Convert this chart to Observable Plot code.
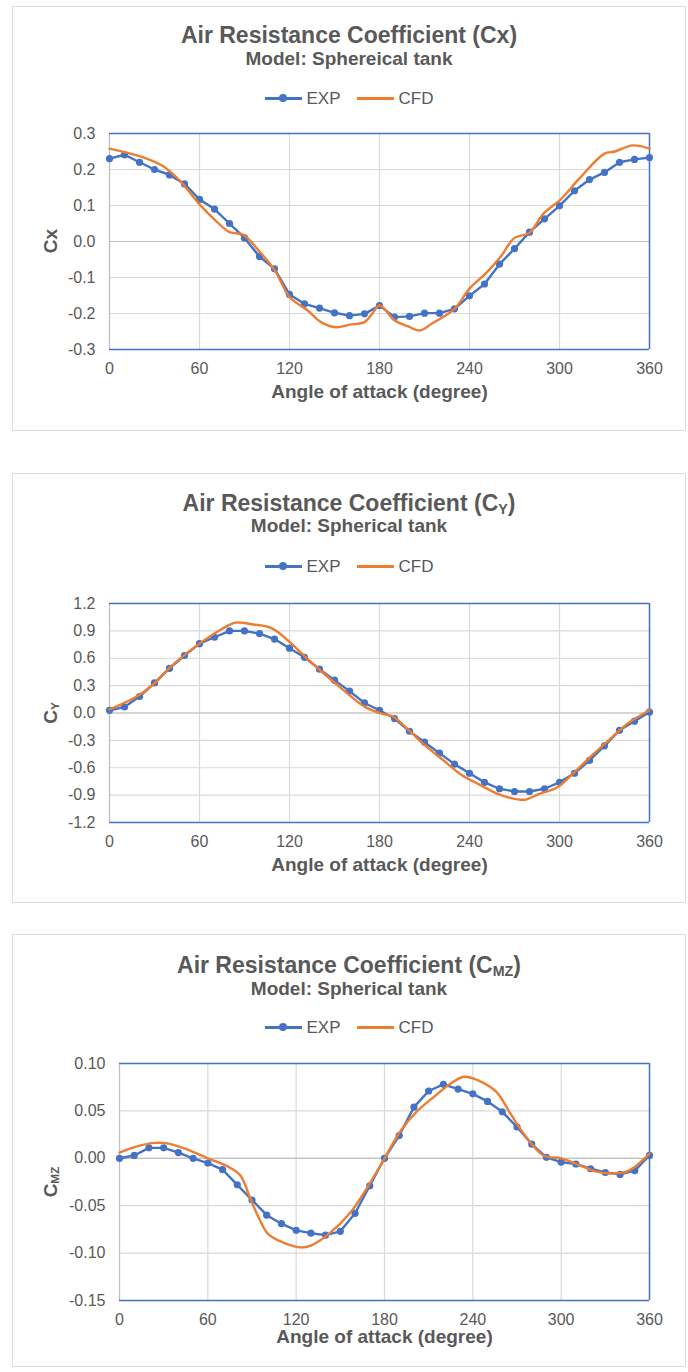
<!DOCTYPE html>
<html>
<head>
<meta charset="utf-8">
<script src="https://cdn.jsdelivr.net/npm/d3@7"></script>
<script src="https://cdn.jsdelivr.net/npm/@observablehq/plot@0.6"></script>
<style>
  html, body { margin: 0; padding: 0; background: #fff; }
  body { width: 688px; height: 1372px; position: relative; overflow: hidden; font-family: "Liberation Sans", Arial, sans-serif; color: #595959; }
  .frame { position: absolute; left: 12px; width: 674px; border: 1px solid #d9d9d9; box-sizing: border-box; }
  .title { position: absolute; left: 12px; width: 674px; text-align: center; font-weight: bold; font-size: 23px; line-height: 23px; white-space: nowrap; }
  .subtitle { position: absolute; left: 12px; width: 674px; text-align: center; font-weight: bold; font-size: 19px; line-height: 19px; white-space: nowrap; }
  .legend { position: absolute; left: 12px; width: 674px; display: flex; justify-content: center; align-items: center; font-size: 17px; line-height: 17px; }
  .legend .item { display: flex; align-items: center; margin: 0 8px; }
  .legend .sw { position: relative; width: 37px; height: 3px; margin-right: 5px; }
  .legend .sw .dot { position: absolute; left: 14.5px; top: -2.5px; width: 8px; height: 8px; border-radius: 50%; }
  .ylabel { position: absolute; font-weight: bold; font-size: 19px; line-height: 19px; white-space: nowrap; transform: translate(-50%, -50%) rotate(-90deg); }
  sub { font-size: 62%; vertical-align: -0.18em; line-height: 0; }
  .chart { position: absolute; left: 13px; }
</style>
</head>
<body>
<script>
// ---------- data ----------
const expAngles = [0,10,20,30,40,50,60,70,80,90,100,110,120,130,140,150,160,170,180,190,200,210,220,230,240,250,260,270,280,290,300,310,320,330,340,350,360];

const cxExp = [0.230,0.241,0.220,0.200,0.185,0.160,0.117,0.090,0.050,0.010,-0.042,-0.076,-0.147,-0.173,-0.185,-0.198,-0.206,-0.201,-0.178,-0.210,-0.208,-0.199,-0.199,-0.187,-0.151,-0.118,-0.063,-0.020,0.026,0.063,0.099,0.141,0.172,0.192,0.220,0.228,0.233];
const cxCfdAngles = [0,20,35,41,48,60,70,80,89,100,110,120,132,141,151,160,170,175,180,184,190,199,207,215,230,240,251,261,270,280,289,301,313,330,337,349,360];
const cxCfd = [0.258,0.237,0.211,0.192,0.164,0.103,0.061,0.026,0.019,-0.028,-0.079,-0.154,-0.191,-0.224,-0.238,-0.231,-0.224,-0.201,-0.177,-0.191,-0.219,-0.236,-0.247,-0.228,-0.187,-0.131,-0.088,-0.041,0.010,0.024,0.076,0.118,0.174,0.244,0.250,0.267,0.258];

const cyExp = [0.029,0.066,0.18,0.33,0.49,0.63,0.76,0.83,0.90,0.90,0.87,0.81,0.71,0.61,0.48,0.36,0.24,0.11,0.03,-0.06,-0.20,-0.32,-0.44,-0.56,-0.66,-0.76,-0.83,-0.86,-0.86,-0.83,-0.76,-0.66,-0.52,-0.36,-0.19,-0.09,0.01];
const cyCfdAngles = [0,17,29,41,60,75,84,96,108,120,129,141,156,170,182,189,199,210,222,234,246,258,267,277,286,298,308,320,332,346,360];
const cyCfd = [0.04,0.17,0.31,0.51,0.76,0.92,0.99,0.97,0.93,0.78,0.64,0.46,0.25,0.07,-0.01,-0.04,-0.18,-0.35,-0.51,-0.67,-0.78,-0.88,-0.93,-0.95,-0.89,-0.82,-0.68,-0.49,-0.31,-0.11,0.03];

const cmzExp = [0.000,0.003,0.011,0.011,0.006,0.000,-0.005,-0.012,-0.028,-0.044,-0.060,-0.069,-0.076,-0.079,-0.081,-0.077,-0.058,-0.029,0.000,0.024,0.054,0.071,0.078,0.073,0.068,0.060,0.049,0.033,0.015,0.001,-0.004,-0.006,-0.011,-0.015,-0.017,-0.013,0.003];
const cmzCfdAngles = [0,12,22,31,43,60,74,82,89,95,101,113,123,130,142,157,169,180,191,201,213,225,234,244,256,266,276,288,300,312,324,336,346,360];
const cmzCfd = [0.006,0.0125,0.016,0.016,0.011,0.000,-0.009,-0.018,-0.043,-0.064,-0.080,-0.090,-0.094,-0.092,-0.080,-0.057,-0.029,0.000,0.029,0.048,0.064,0.079,0.086,0.082,0.070,0.046,0.023,0.003,0.000,-0.007,-0.014,-0.016,-0.013,0.005];

const xTicks = [0,60,120,180,240,300,360];
const cxTicks = [-0.3,-0.2,-0.1,0,0.1,0.2,0.3];
const cyTicks = [-1.2,-0.9,-0.6,-0.3,0,0.3,0.6,0.9,1.2];
const cmzTicks = [-0.15,-0.10,-0.05,0,0.05,0.10];

const xLabel = "Angle of attack (degree)";
const seriesNames = ["EXP", "CFD"];
const colors = {EXP: "#4472C4", CFD: "#ED7D31"};

// ---------- layout ----------
const panels = [
  {frameTop: 6, frameBottom: 431, titleY: 35, subY: 58, legendY: 98, plotTop: 133, plotBottom: 349, labelDy: 48, ml: 96,
   title: "Air Resistance Coefficient (Cx)", sub: "Model: Sphereical tank", ylab: "Cx",
   exp: cxExp, cfdA: cxCfdAngles, cfd: cxCfd, ticks: cxTicks, domain: [-0.3, 0.3], fmt: d => d.toFixed(1)},
  {frameTop: 473, frameBottom: 903, titleY: 503, subY: 525, legendY: 566, plotTop: 603, plotBottom: 822, labelDy: 48, ml: 96,
   title: "Air Resistance Coefficient (C<sub>Y</sub>)", sub: "Model: Spherical tank", ylab: "C<sub>Y</sub>",
   exp: cyExp, cfdA: cyCfdAngles, cfd: cyCfd, ticks: cyTicks, domain: [-1.2, 1.2], fmt: d => d.toFixed(1)},
  {frameTop: 934, frameBottom: 1367, titleY: 965, subY: 988, legendY: 1027, plotTop: 1063, plotBottom: 1300, labelDy: 42, ml: 106,
   title: "Air Resistance Coefficient (C<sub>MZ</sub>)", sub: "Model: Spherical tank", ylab: "C<sub>MZ</sub>",
   exp: cmzExp, cfdA: cmzCfdAngles, cfd: cmzCfd, ticks: cmzTicks, domain: [-0.15, 0.10], fmt: d => d.toFixed(2)}
];

function el(cls, html, style) {
  const d = document.createElement("div");
  d.className = cls;
  d.innerHTML = html;
  Object.assign(d.style, style);
  document.body.appendChild(d);
  return d;
}

for (const p of panels) {
  el("frame", "", {top: p.frameTop + "px", height: (p.frameBottom - p.frameTop) + "px"});
  el("title", p.title, {top: (p.titleY - 11.5) + "px"});
  el("subtitle", p.sub, {top: (p.subY - 9.5) + "px"});
  const lg = el("legend", "", {top: (p.legendY - 8.5) + "px", height: "17px"});
  for (const s of seriesNames) {
    const it = document.createElement("div");
    it.className = "item";
    it.innerHTML = `<div class="sw" style="background:${colors[s]}">${s === "EXP" ? `<div class="dot" style="background:${colors[s]}"></div>` : ""}</div><span>${s}</span>`;
    lg.appendChild(it);
  }
  el("ylabel", p.ylab, {left: "50px", top: ((p.plotTop + p.plotBottom) / 2) + "px"});

  const expData = expAngles.map((a, i) => ({a, v: p.exp[i]}));
  const cfdData = p.cfdA.map((a, i) => ({a, v: p.cfd[i]}));
  const mt = 10, mb = p.labelDy + 16, mr = 38;
  const plotH = p.plotBottom - p.plotTop;

  const chart = Plot.plot({
    width: 674,
    height: mt + plotH + mb,
    marginTop: mt, marginBottom: mb, marginLeft: p.ml, marginRight: mr,
    style: {fontFamily: '"Liberation Sans", Arial, sans-serif', fontSize: "16px", color: "#595959", background: "transparent", overflow: "visible"},
    x: {domain: [0, 360], ticks: xTicks},
    y: {domain: p.domain, ticks: p.ticks},
    marks: [
      Plot.gridX(xTicks, {stroke: "#d9d9d9", strokeOpacity: 1, strokeWidth: 1.2}),
      Plot.gridY(p.ticks, {stroke: "#d9d9d9", strokeOpacity: 1, strokeWidth: 1.2}),
      Plot.ruleY([0], {stroke: "#bfbfbf", strokeWidth: 1.2}),
      Plot.ruleX([0], {stroke: "#bfbfbf", strokeWidth: 1.2}),
      Plot.ruleY([p.domain[0], p.domain[1]], {stroke: "#4472C4", strokeWidth: 1.5}),
      Plot.ruleX([360], {stroke: "#4472C4", strokeWidth: 1.5}),
      Plot.axisX({ticks: xTicks, tickSize: 0, tickPadding: 13, label: null, fontSize: 16}),
      Plot.axisY({ticks: p.ticks, tickSize: 0, tickPadding: 14, tickFormat: p.fmt, label: null, fontSize: 16}),
      Plot.line(expData, {x: "a", y: "v", stroke: colors.EXP, strokeWidth: 2.4}),
      Plot.dot(expData, {x: "a", y: "v", r: 3.6, fill: colors.EXP, stroke: "none"}),
      Plot.line(cfdData, {x: "a", y: "v", stroke: colors.CFD, strokeWidth: 2.4, curve: "catmull-rom"}),
      Plot.text([xLabel], {text: d => d, frameAnchor: "bottom", dy: p.labelDy, fontSize: 19, fontWeight: "bold", fill: "#595959"})
    ]
  });
  chart.classList.add("chart");
  chart.style.top = (p.plotTop - mt) + "px";
  document.body.appendChild(chart);
}
</script>
</body>
</html>
